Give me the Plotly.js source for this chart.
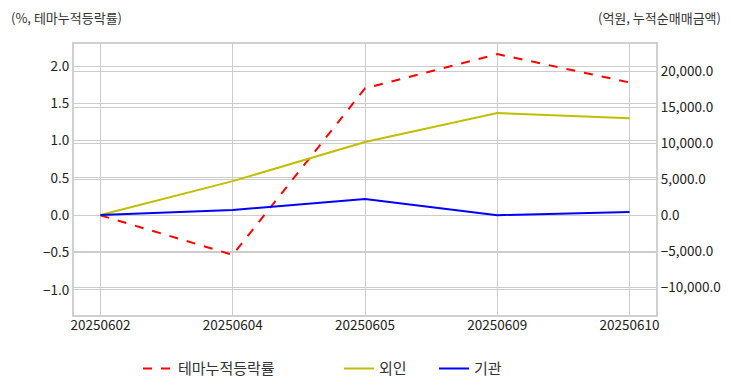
<!DOCTYPE html>
<html><head><meta charset="utf-8">
<script src="https://cdn.plot.ly/plotly-3.0.1.min.js"></script>
<style>html,body{margin:0;padding:0;background:#fff}#chart{width:732px;height:392px}</style>
</head><body><div id="chart"></div>
<script>
const dates = ["20250602","20250604","20250605","20250609","20250610"];
const themeReturn = [0.00, -0.53, 1.70, 2.16, 1.78];
const foreign = [0, 4700, 10150, 14150, 13450];
const institution = [0, 690, 2220, -20, 410];
const names = ["테마누적등락률","외인","기관"];

const F = "Noto Sans CJK KR, DejaVu Sans, sans-serif";
const TS = 13.5;
const traces = [
  {x: dates, y: themeReturn, name: names[0], type: "scatter", mode: "lines",
   line: {color: "#ff0000", width: 2, dash: "dash"}, yaxis: "y", legend: "legend"},
  {x: dates, y: foreign, name: names[1], type: "scatter", mode: "lines",
   line: {color: "#bfbf00", width: 2}, yaxis: "y2", legend: "legend2"},
  {x: dates, y: institution, name: names[2], type: "scatter", mode: "lines",
   line: {color: "#0000ff", width: 2}, yaxis: "y2", legend: "legend3"}
];
const legBase = {orientation: "h", xref: "container", yref: "container", y: 0.059, yanchor: "middle",
  font: {family: F, size: 15, color: "#333"}, bgcolor: "rgba(0,0,0,0)"};
const layout = {
  width: 732, height: 392,
  margin: {l: 74, r: 76, t: 44, b: 77},
  paper_bgcolor: "#fff", plot_bgcolor: "#fff",
  font: {family: F, size: 12, color: "#333"},
  xaxis: {type: "category", range: [-0.2, 4.2], showgrid: true, gridcolor: "#cccccc", gridwidth: 1,
    showline: true, mirror: true, linecolor: "#d0d0d0", linewidth: 2, ticks: "", zeroline: false,
    ticklabelstandoff: -3, tickfont: {family: F, size: TS, color: "#222"}},
  yaxis: {range: [-1.336, 2.295], dtick: 0.5, tick0: 0, tickformat: ".1f", showgrid: true, gridcolor: "#cccccc",
    zeroline: false, ticks: "", showline: true, linecolor: "#d0d0d0", linewidth: 2,
    tickfont: {family: F, size: TS, color: "#222"}},
  yaxis2: {overlaying: "y", side: "right", range: [-13889, 23750], dtick: 5000, tick0: 0, tickformat: ",.1f",
    showgrid: true, gridcolor: "#cccccc", zeroline: false, ticks: "", showline: true, linecolor: "#d0d0d0", linewidth: 2,
    tickfont: {family: F, size: TS, color: "#222"}},
  showlegend: true,
  legend: Object.assign({}, legBase, {x: 138/732}),
  legend2: Object.assign({}, legBase, {x: 339/732}),
  legend3: Object.assign({}, legBase, {x: 434/732}),
  annotations: [
    {text: "(%, 테마누적등락률)", xref: "paper", yref: "paper", x: (9 - 74) / 582, y: 1 + 27 / 271,
     xanchor: "left", yanchor: "middle", showarrow: false,
     font: {family: F, size: 13, color: "#333"}},
    {text: "(억원, 누적순매매금액)", xref: "paper", yref: "paper", x: (723 - 74) / 582, y: 1 + 27 / 271,
     xanchor: "right", yanchor: "middle", showarrow: false, font: {family: F, size: 13, color: "#333"}}
  ]
};
Plotly.newPlot("chart", traces, layout, {displayModeBar: false, staticPlot: true});
</script></body></html>
